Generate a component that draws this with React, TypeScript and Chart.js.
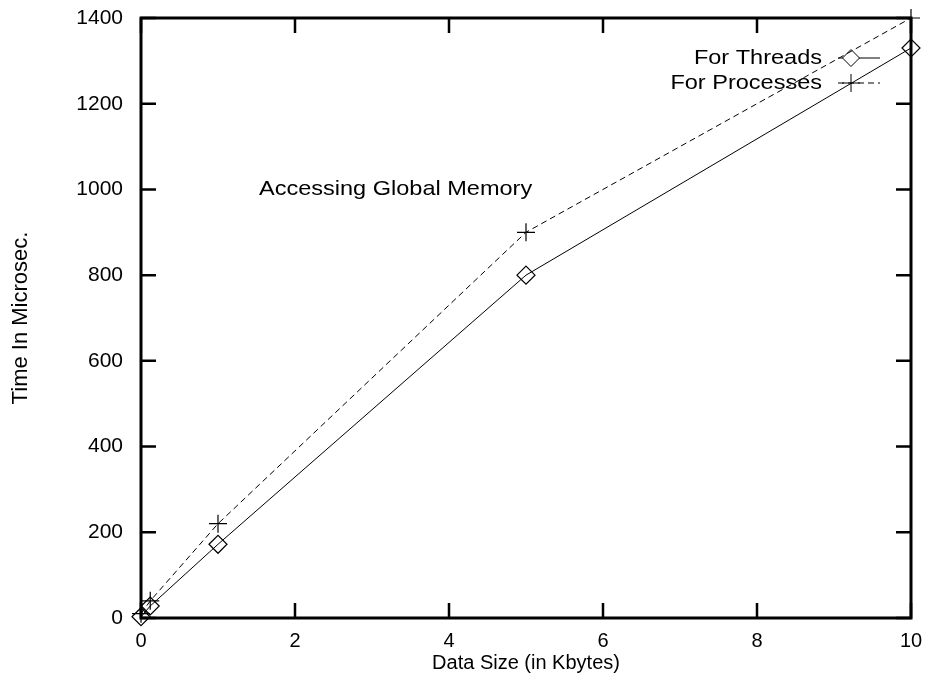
import React, { useEffect, useRef } from "react";
import { Chart, registerables } from "chart.js";

Chart.register(...registerables);

const xValues = [0, 0.12, 1, 5, 10];
const threadTimes = [3, 28, 172, 800, 1330];
const processTimes = [10, 40, 220, 900, 1400];
const xTicks = [0, 2, 4, 6, 8, 10];
const yTicks = [0, 200, 400, 600, 800, 1000, 1200, 1400];
const seriesLabels = ["For Threads", "For Processes"];
const annotationText = "Accessing Global Memory";
const xTitle = "Data Size (in Kbytes)";
const yTitle = "Time In Microsec.";

const FONT = "'Liberation Sans', Arial, Helvetica, sans-serif";

const framePlugin = {
  id: "gnuframe",
  beforeDatasetsDraw(chart: any) {
    const { ctx, chartArea } = chart;
    const { left, right, top, bottom } = chartArea;
    const xs = chart.scales.x;
    const ys = chart.scales.y;
    ctx.save();
    ctx.strokeStyle = "#000";
    ctx.lineWidth = 3;
    ctx.strokeRect(left, top, right - left, bottom - top);
    ctx.lineWidth = 2.5;
    const tl = 15;
    ctx.beginPath();
    xTicks.forEach((v) => {
      const px = xs.getPixelForValue(v);
      ctx.moveTo(px, bottom);
      ctx.lineTo(px, bottom - tl);
      ctx.moveTo(px, top);
      ctx.lineTo(px, top + tl);
    });
    yTicks.forEach((v) => {
      const py = ys.getPixelForValue(v);
      ctx.moveTo(left, py);
      ctx.lineTo(left + tl, py);
      ctx.moveTo(right, py);
      ctx.lineTo(right - tl, py);
    });
    ctx.stroke();

    const stretch = 1.12;
    const drawText = (t: string, x: number, y: number, align: "left" | "right") => {
      ctx.save();
      ctx.translate(x, y);
      ctx.scale(stretch, 1);
      ctx.textAlign = align;
      ctx.textBaseline = "middle";
      ctx.fillText(t, 0, 0);
      ctx.restore();
    };
    ctx.fillStyle = "#000";
    ctx.font = `21px ${FONT}`;
    drawText(annotationText, 259, 189, "left");

    const legendY = [58, 83];
    const dashes = [[], [6, 4]];
    seriesLabels.forEach((lab, i) => {
      const y = legendY[i];
      drawText(lab, 822, y, "right");
      ctx.lineWidth = 1;
      ctx.setLineDash(dashes[i]);
      ctx.beginPath();
      ctx.moveTo(838, y);
      ctx.lineTo(880, y);
      ctx.stroke();
      ctx.setLineDash([]);
      const cx = 851;
      ctx.beginPath();
      if (i === 0) {
        const r = 8.5;
        ctx.moveTo(cx - r, y);
        ctx.lineTo(cx, y - r);
        ctx.lineTo(cx + r, y);
        ctx.lineTo(cx, y + r);
        ctx.closePath();
        ctx.fillStyle = "#fff";
        ctx.fill();
        ctx.fillStyle = "#000";
      } else {
        const r = 9;
        ctx.moveTo(cx - r, y);
        ctx.lineTo(cx + r, y);
        ctx.moveTo(cx, y - r);
        ctx.lineTo(cx, y + r);
      }
      ctx.stroke();
    });
    ctx.restore();
  },
};

export default function App() {
  const ref = useRef<HTMLCanvasElement>(null);
  useEffect(() => {
    if (!ref.current) return;
    const chart = new Chart(ref.current, {
      type: "line",
      data: {
        datasets: [
          {
            label: seriesLabels[0],
            data: xValues.map((x, i) => ({ x, y: threadTimes[i] })),
            borderColor: "#000",
            borderWidth: 1,
            backgroundColor: "transparent",
            pointStyle: "rectRot",
            pointRadius: 9,
            pointBorderWidth: 1.2,
            pointBorderColor: "#000",
            pointBackgroundColor: "transparent",
            clip: false,
            tension: 0,
          },
          {
            label: seriesLabels[1],
            data: xValues.map((x, i) => ({ x, y: processTimes[i] })),
            borderColor: "#000",
            borderWidth: 1,
            borderDash: [6, 4],
            backgroundColor: "transparent",
            pointStyle: "cross",
            pointRadius: 9,
            pointBorderWidth: 1.2,
            pointBorderColor: "#000",
            clip: false,
            tension: 0,
          },
        ],
      },
      options: {
        responsive: false,
        animation: false,
        layout: { padding: { top: 18, right: 18, left: 0, bottom: 0 } },
        plugins: { legend: { display: false }, tooltip: { enabled: false } },
        scales: {
          x: {
            type: "linear",
            min: 0,
            max: 10,
            afterFit: (s: any) => {
              s.height = 63;
              s.paddingLeft = 0;
              s.paddingRight = 0;
            },
            afterBuildTicks: (s: any) => {
              s.ticks = xTicks.map((v) => ({ value: v }));
            },
            grid: { display: false },
            border: { display: false },
            ticks: {
              color: "#000",
              font: { family: FONT, size: 20 },
              padding: 3,
              maxRotation: 0,
              callback: (v: any) => String(v),
            },
            title: {
              display: true,
              text: xTitle,
              color: "#000",
              font: { family: FONT, size: 20 },
              padding: { top: 0, bottom: 6 },
            },
          },
          y: {
            type: "linear",
            min: 0,
            max: 1400,
            afterFit: (s: any) => {
              s.width = 141;
              s.paddingTop = 0;
              s.paddingBottom = 0;
            },
            afterBuildTicks: (s: any) => {
              s.ticks = yTicks.map((v) => ({ value: v }));
            },
            grid: { display: false },
            border: { display: false },
            ticks: {
              color: "#000",
              font: { family: FONT, size: 21 },
              padding: 10,
              callback: (v: any) => String(v),
            },
            title: {
              display: true,
              text: yTitle,
              color: "#000",
              font: { family: FONT, size: 22 },
              padding: { top: 8, bottom: 0 },
            },
          },
        },
      },
      plugins: [framePlugin],
    });
    return () => chart.destroy();
  }, []);
  return (
    <canvas
      ref={ref}
      width={929}
      height={681}
      style={{ position: "absolute", left: 0, top: 0, display: "block", background: "#fff" }}
    />
  );
}
